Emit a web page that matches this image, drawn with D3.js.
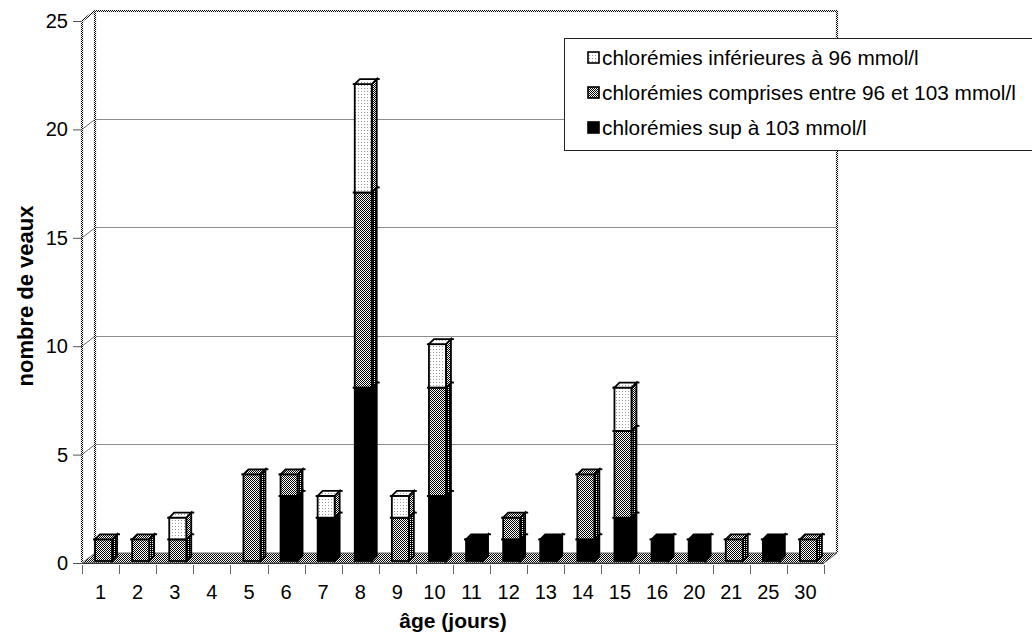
<!DOCTYPE html>
<html>
<head>
<meta charset="utf-8">
<script src="https://cdn.jsdelivr.net/npm/d3@7"></script>
<style>
  html, body { margin: 0; padding: 0; background: #fff; }
  svg { display: block; font-family: "Liberation Sans", Arial, Helvetica, sans-serif; }
</style>
</head>
<body>
<svg id="chart" width="1032" height="639"></svg>
<script>
// Age of calves (days) and counts per chloride class
const ages = ["1","2","3","4","5","6","7","8","9","10","11","12","13","14","15","16","20","21","25","30"];
const supA103 = [0,0,0,0,0,3,2,8,0,3,1,1,1,1,2,1,1,0,1,0];
const entre96et103 = [1,1,1,0,4,1,0,9,2,5,0,1,0,3,4,0,0,1,0,1];
const infA96 = [0,0,1,0,0,0,1,5,1,2,0,0,0,0,2,0,0,0,0,0];
const yTicks = [0,5,10,15,20,25];
const seriesNames = [
  "chlorémies inférieures à 96 mmol/l",
  "chlorémies comprises entre 96 et 103 mmol/l",
  "chlorémies sup à 103 mmol/l"
];

const svg = d3.select("#chart");
const defs = svg.append("defs");

// dithered fills
function pattern(id, w, h, cells, bg) {
  const p = defs.append("pattern").attr("id", id)
    .attr("patternUnits", "userSpaceOnUse").attr("width", w).attr("height", h);
  p.append("rect").attr("width", w).attr("height", h).attr("fill", bg).attr("shape-rendering", "crispEdges");
  cells.forEach(c => p.append("rect").attr("x", c[0]).attr("y", c[1]).attr("width", 1).attr("height", 1)
    .attr("fill", c[2]).attr("shape-rendering", "crispEdges"));
}
pattern("checker", 2, 2, [[0,0,"#000"],[1,1,"#000"]], "#fff");
pattern("checkerDark", 2, 2, [[0,0,"#000"],[1,1,"#000"],[1,0,"#000"]], "#fff");
pattern("dots", 3, 3, [[1,1,"#9a9a9a"]], "#fff");

// plot frame (front plane) and depth offset of the walls
const X0 = 82, X1 = 824, Y0 = 563, YT = 21;
const DX = 13, DY = -10;

const x = d3.scaleBand().domain(ages).range([X0, X1]).padding(0);
const y = d3.scaleLinear().domain([0, 25]).range([Y0, YT]);

const walls = svg.append("g");
// back-wall gridlines with their diagonal on the side wall
yTicks.filter(v => v > 0 && v < 25).forEach(v => {
  walls.append("line").attr("x1", X0 + DX).attr("x2", X1 + DX)
    .attr("y1", y(v) + DY).attr("y2", y(v) + DY)
    .attr("stroke", "#8c8c8c").attr("stroke-width", 1).attr("shape-rendering", "crispEdges");
  walls.append("line").attr("x1", X0).attr("y1", y(v)).attr("x2", X0 + DX).attr("y2", y(v) + DY)
    .attr("stroke", "#6a6a6a").attr("stroke-width", 1);
});
// wall outlines drawn with the dithered grey
const edge = (pts) => walls.append("polyline").attr("points", pts.map(p => p.join(",")).join(" "))
  .attr("fill", "none").attr("stroke", "url(#checker)").attr("stroke-width", 2.2);
edge([[X0, Y0], [X0, y(25)], [X0 + DX, y(25) + DY], [X1 + DX, y(25) + DY], [X1 + DX, Y0 + DY]]);
edge([[X0 + DX, y(25) + DY], [X0 + DX, Y0 + DY]]);

// floor
walls.append("polygon")
  .attr("points", [[X0, Y0], [X1, Y0], [X1 + DX, Y0 + DY], [X0 + DX, Y0 + DY]].map(p => p.join(",")).join(" "))
  .attr("fill", "url(#checker)").attr("stroke", "#666").attr("stroke-width", 1);
walls.append("line").attr("x1", X0).attr("x2", X1).attr("y1", Y0 + 0.5).attr("y2", Y0 + 0.5)
  .attr("stroke", "#333").attr("stroke-width", 1);

// y axis
const yAxis = svg.append("g").attr("transform", `translate(${X0},0)`)
  .call(d3.axisLeft(y).tickValues(yTicks).tickSize(9).tickPadding(5));
yAxis.select(".domain").remove();
yAxis.selectAll(".tick line").attr("stroke", "#555");
yAxis.selectAll(".tick text").attr("font-size", 20).attr("font-family", "Liberation Sans, Arial, sans-serif").attr("fill", "#000");

// x axis: labels under each age, ticks on category boundaries
const xAxis = svg.append("g").attr("transform", `translate(0,${Y0})`)
  .call(d3.axisBottom(x).tickSize(0).tickPadding(22));
xAxis.select(".domain").remove();
xAxis.selectAll(".tick text").attr("font-size", 20).attr("font-family", "Liberation Sans, Arial, sans-serif").attr("fill", "#000");
const bounds = ages.map(a => x(a)).concat([X1]);
svg.append("g").selectAll("line").data(bounds).join("line")
  .attr("x1", d => Math.round(d) + 0.5).attr("x2", d => Math.round(d) + 0.5)
  .attr("y1", Y0 + 2).attr("y2", Y0 + 11)
  .attr("stroke", "#666").attr("stroke-width", 1);

// stacked 3D columns
const rows = ages.map((a, i) => ({ age: a, sup: supA103[i], mid: entre96et103[i], low: infA96[i] }));
const keys = ["sup", "mid", "low"];
const fills = {
  sup: { front: "#000", side: "#000", top: "#000" },
  mid: { front: "url(#checker)", side: "url(#checkerDark)", top: "url(#checker)" },
  low: { front: "url(#dots)", side: "url(#checker)", top: "url(#dots)" }
};
const stacked = d3.stack().keys(keys)(rows);

const BW = 17;            // front face width
const OX = 3, OY = -2;    // column position inside the depth
const BX = 5, BY = -5;    // column depth
const bars = svg.append("g");
rows.forEach((r, i) => {
  const left = x(r.age) + x.bandwidth() / 2 - BW / 2 + OX;
  stacked.forEach(s => {
    const [v0, v1] = s[i];
    if (v1 - v0 <= 0) return;
    const f = fills[s.key];
    const yb = y(v0) + OY, yt = y(v1) + OY;
    const g = bars.append("g").attr("stroke", "#000").attr("stroke-width", 1.8).attr("stroke-linejoin", "miter");
    g.append("polygon").attr("points", [[left + BW, yb], [left + BW + BX, yb + BY], [left + BW + BX, yt + BY], [left + BW, yt]].map(p => p.join(",")).join(" "))
      .attr("fill", f.side);
    g.append("rect").attr("x", left).attr("y", yt).attr("width", BW).attr("height", yb - yt)
      .attr("fill", f.front);
    g.append("polygon").attr("points", [[left, yt], [left + BX, yt + BY], [left + BW + BX, yt + BY], [left + BW, yt]].map(p => p.join(",")).join(" "))
      .attr("fill", f.top);
    // small edge spurs at each segment top
    g.append("line").attr("x1", left - 2).attr("x2", left).attr("y1", yt).attr("y2", yt);
    g.append("line").attr("x1", left + BW + BX).attr("x2", left + BW + BX + 3).attr("y1", yt + BY).attr("y2", yt + BY);
  });
});

// legend
const legend = svg.append("g");
legend.append("rect").attr("x", 564.5).attr("y", 38.5).attr("width", 480).attr("height", 112)
  .attr("fill", "#fff").attr("stroke", "#222").attr("stroke-width", 1);
const legFills = ["url(#dots)", "url(#checker)", "#000"];
seriesNames.forEach((name, k) => {
  const cy = 57.5 + k * 35;
  legend.append("rect").attr("x", 588).attr("y", cy - 5.5).attr("width", 11).attr("height", 11)
    .attr("fill", legFills[k]).attr("stroke", "#000").attr("stroke-width", 1.6);
  legend.append("text").attr("x", 602).attr("y", cy + 7.3).attr("font-size", 20.8).text(name);
});

// axis titles
svg.append("text").attr("x", 453).attr("y", 628).attr("text-anchor", "middle")
  .attr("font-size", 21).attr("font-weight", "bold").text("âge (jours)");
svg.append("text").attr("transform", "translate(33,296) rotate(-90)").attr("text-anchor", "middle")
  .attr("font-size", 22).attr("font-weight", "bold").text("nombre de veaux");
</script>
</body>
</html>
